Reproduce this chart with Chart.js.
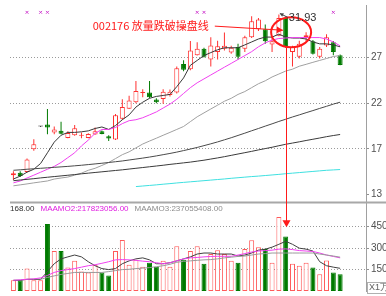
<!DOCTYPE html>
<html><head><meta charset="utf-8">
<script src="https://cdn.jsdelivr.net/npm/chart.js@4.4.0/dist/chart.umd.min.js"></script>
<style>html,body{margin:0;padding:0;background:#fff;}canvas{display:block;}</style>
</head><body>
<canvas id="c" width="386" height="296"></canvas>
<script>
// ---- data ----
const opens  = [15.05,15.29,15.39,17.78,20.15,20.36,19.54,19.70,18.96,19.24,19.19,18.96,19.31,19.65,19.14,18.80,20.97,22.03,22.71,23.68,23.73,22.99,23.05,23.46,23.73,26.72,26.18,27.64,28.33,27.20,27.99,28.33,27.92,28.50,28.33,29.52,30.37,30.37,28.76,29.68,31.56,27.99,27.48,29.55,29.11,27.48,28.66,29.01,27.64];
const highs  = [15.46,15.46,16.79,18.83,20.18,22.00,20.16,20.67,19.65,20.33,19.54,19.44,20.06,19.75,19.24,21.48,23.02,23.39,24.93,24.07,24.93,23.12,24.07,24.04,26.46,27.13,29.14,29.01,28.43,29.52,29.17,30.03,28.63,28.84,29.68,31.73,31.56,30.88,29.52,31.93,31.69,28.63,29.17,30.06,29.24,28.50,29.86,29.14,27.71];
const lows   = [14.54,14.85,15.36,17.60,20.12,19.34,19.34,19.34,18.93,19.19,18.93,18.93,19.29,19.34,18.63,18.73,20.87,22.00,22.61,23.22,23.12,22.61,22.54,23.32,23.63,25.95,26.08,27.61,27.41,26.46,27.20,28.15,27.81,27.20,27.99,29.45,30.19,28.84,27.99,29.65,28.43,26.46,27.30,29.14,27.71,27.30,28.50,27.64,26.59];
const closes = [15.26,14.95,16.69,18.29,20.15,20.06,19.85,19.39,19.47,19.98,19.29,19.37,19.65,19.37,18.90,21.35,22.20,22.88,23.90,23.78,23.22,22.71,23.80,23.80,26.28,26.11,28.15,28.33,27.48,28.66,28.58,28.63,28.43,27.48,29.52,31.21,31.39,29.11,29.11,31.56,28.50,28.50,28.84,29.75,27.81,28.33,29.52,27.99,26.62];
const volumes = [75,75,157,75,75,470,280,280,164,211,136,130,184,130,109,280,357,184,218,170,198,170,211,170,314,218,280,314,191,259,286,259,211,198,295,355,307,295,198,518,382,191,177,198,164,118,213,130,118];

const ma5   = [14.64,14.95,15.36,15.67,16.28,17.40,18.52,19.24,19.54,19.54,19.60,19.70,19.95,20.11,19.85,20.26,20.87,21.38,22.20,22.71,23.12,23.32,23.42,23.53,24.34,25.26,26.59,27.10,27.61,27.92,28.22,28.43,28.43,28.43,28.73,29.04,29.35,29.55,29.55,29.86,29.55,29.45,29.45,29.35,29.04,28.84,28.84,28.73,28.53];
const ma10  = [14.24,14.44,14.75,15.05,15.36,15.67,15.97,16.38,16.89,17.40,18.12,18.73,19.44,19.85,19.85,20.06,20.46,20.77,20.87,21.08,21.38,21.69,22.10,22.51,23.02,23.63,24.24,24.75,25.16,25.57,25.98,26.39,26.79,27.20,27.61,28.02,28.53,28.94,29.24,29.40,29.45,29.50,29.50,29.50,29.50,29.50,29.35,29.04,28.63];
const ma20  = [13.93,14.03,14.13,14.24,14.34,14.44,14.64,14.75,14.85,15.05,15.26,15.56,15.77,16.07,16.38,16.79,17.20,17.50,17.91,18.32,18.63,18.93,19.24,19.54,19.85,20.16,20.67,21.18,21.59,22.00,22.40,22.81,23.12,23.53,23.83,24.24,24.65,24.96,25.36,25.67,25.98,26.18,26.49,26.69,26.90,27.10,27.30,27.51,27.61];
const ma60  = [15.56,15.61,15.67,15.72,15.77,15.82,15.87,15.92,15.97,16.03,16.09,16.16,16.23,16.30,16.38,16.46,16.54,16.64,16.74,16.84,16.95,17.07,17.20,17.33,17.47,17.63,17.79,17.96,18.15,18.34,18.54,18.76,18.98,19.22,19.46,19.71,19.95,20.20,20.44,20.69,20.92,21.16,21.38,21.61,21.83,22.06,22.28,22.51,22.71];
const ma120 = [14.47,14.54,14.61,14.68,14.76,14.83,14.90,14.97,15.04,15.11,15.19,15.26,15.33,15.40,15.47,15.54,15.61,15.69,15.77,15.85,15.93,16.01,16.09,16.18,16.26,16.34,16.42,16.52,16.62,16.74,16.86,16.99,17.13,17.27,17.41,17.55,17.70,17.84,17.98,18.14,18.29,18.42,18.55,18.69,18.82,18.95,19.09,19.21,19.32];
const ma250 = [null,null,null,null,null,null,null,null,null,null,null,null,null,null,null,null,null,null,13.85,13.91,13.97,14.03,14.10,14.16,14.23,14.29,14.35,14.41,14.47,14.53,14.59,14.65,14.72,14.78,14.84,14.90,14.95,15.01,15.07,15.13,15.20,15.26,15.32,15.38,15.44,15.50,15.56,15.60,15.64];

const vma5  = [75,75,82,82,82,136,191,225,239,252,239,205,177,157,150,157,191,211,225,232,218,191,191,198,211,225,239,259,266,266,259,259,259,245,252,266,286,293,307,327,348,327,300,293,280,205,177,167,159];
const vma10 = [75,78,82,85,92,109,130,143,150,157,167,177,184,194,205,218,220,218,215,209,205,198,191,198,211,225,232,235,239,242,243,243,243,252,262,273,280,283,286,293,295,290,283,280,277,266,252,242,232];
const vma20 = [null,null,null,null,82,95,106,116,123,130,130,130,130,130,136,143,150,152,157,160,164,170,177,187,201,208,211,215,218,220,225,232,237,242,245,252,259,262,266,266,266,266,266,266,266,259,252,245,237];

const PRICE_TICKS = [13.0, 17.8, 22.6, 27.4];
const PRICE_TICK_LABELS = ['13', '17', '22', '27'];
const VOL_TICKS = [150, 300, 450];
const VOL_TICK_LABELS = ['150', '300', '450'];

const markerIdx = [2, 4, 5, 27, 28, 47];
const MARK_LEVEL = 32.15;

const TITLE = '002176 放量跌破操盘线';
const TITLE_AT = [11.65, 30.70];
const ARROW_TO = [39.6, 30.27];
const ELLIPSE_AT = [40.8, 30.06];
const BREAK_IDX = 40;
const ARROW_TIP_VOL = 447;
const MAX_LABEL = '31.93';
const VOL_LEGEND = [['168.00', '#303030'], ['MAAMO2:217823056.00', '#e020e0'], ['MAAMO3:237055408.00', '#8c8c8c']];
const UNIT_LABEL = 'X1万';

// ---- styling ----
const RED = '#ff3030', VRED = '#ff5a5a', GREEN = '#007a00', FLAT = '#303030';
const idx = opens.map((_, i) => i);
const dir = idx.map(i => closes[i] > opens[i] ? 1 : (closes[i] < opens[i] ? -1 : 0));
const lineCol = idx.map(i => dir[i] > 0 ? RED : (dir[i] < 0 ? GREEN : FLAT));
const fillCol = idx.map(i => dir[i] > 0 ? '#ffffff' : lineCol[i]);

function lineDs(arr, color, axis, width) {
  return { type: 'line', data: idx.map(i => ({ x: i, y: arr[i] })), yAxisID: axis, borderColor: color,
    borderWidth: width || 1, pointRadius: 0, tension: 0, order: 1, spanGaps: false };
}

function arrowHead(ctx, x1, y1, x2, y2, size) {
  const a = Math.atan2(y2 - y1, x2 - x1);
  ctx.beginPath();
  ctx.moveTo(x2, y2);
  ctx.lineTo(x2 - size * Math.cos(a - 0.5), y2 - size * Math.sin(a - 0.5));
  ctx.lineTo(x2 - size * Math.cos(a + 0.5), y2 - size * Math.sin(a + 0.5));
  ctx.closePath();
  ctx.fill();
}

const annotations = {
  id: 'annotations',
  afterDraw(chart) {
    const { ctx } = chart;
    const xs = chart.scales.x, yp = chart.scales.y, yv = chart.scales.yv;
    const area = chart.chartArea;
    ctx.save();
    // pane separator
    ctx.strokeStyle = '#a8a8a8'; ctx.lineWidth = 2;
    ctx.beginPath(); ctx.moveTo(area.left, yv.top); ctx.lineTo(chart.width, yv.top); ctx.stroke();
    // volume legend
    ctx.font = '8px "Liberation Sans"'; ctx.textBaseline = 'middle'; ctx.textAlign = 'left';
    let tx = area.left;
    VOL_LEGEND.forEach(([t, c]) => { ctx.fillStyle = c; ctx.fillText(t, tx, yv.top + 6.5); tx += ctx.measureText(t).width + 6; });
    // unit box
    ctx.font = '9px "Liberation Sans"';
    const ux = yv.left + 1, uy = yv.bottom - 9;
    ctx.strokeStyle = '#b0b0b0'; ctx.lineWidth = 1;
    ctx.strokeRect(ux + 0.5, uy + 0.5, 22, 11);
    ctx.fillStyle = '#606060'; ctx.fillText(UNIT_LABEL, ux + 2, uy + 6);
    // title
    const tX = xs.getPixelForValue(TITLE_AT[0]), tY = yp.getPixelForValue(TITLE_AT[1]);
    ctx.font = '11px "Noto Sans CJK SC"'; ctx.fillStyle = '#ff1a1a';
    ctx.fillText(TITLE, tX, tY);
    const tW = ctx.measureText(TITLE).width;
    const aX = xs.getPixelForValue(ARROW_TO[0]), aY = yp.getPixelForValue(ARROW_TO[1]);
    ctx.strokeStyle = '#ff1a1a'; ctx.lineWidth = 1;
    ctx.beginPath(); ctx.moveTo(tX + tW + 6, tY); ctx.lineTo(aX, aY); ctx.stroke();
    arrowHead(ctx, tX + tW + 6, tY, aX, aY, 7);
    // ellipse around the breakdown
    ctx.lineWidth = 2;
    ctx.beginPath();
    ctx.ellipse(xs.getPixelForValue(ELLIPSE_AT[0]), yp.getPixelForValue(ELLIPSE_AT[1]), 20, 15, 0, 0, Math.PI * 2);
    ctx.stroke();
    // vertical marker line down to the volume pane
    const bx = Math.round(xs.getPixelForValue(BREAK_IDX)) + 0.5;
    const tipY = yv.getPixelForValue(ARROW_TIP_VOL);
    ctx.lineWidth = 1;
    ctx.beginPath(); ctx.moveTo(bx, yp.getPixelForValue(lows[BREAK_IDX])); ctx.lineTo(bx, tipY - 6); ctx.stroke();
    ctx.beginPath(); ctx.moveTo(bx - 4, tipY - 7); ctx.lineTo(bx + 4, tipY - 7); ctx.lineTo(bx, tipY); ctx.closePath(); ctx.fill();
    // max price label
    let mi = 0; highs.forEach((h, i) => { if (h > highs[mi]) mi = i; });
    const hx = xs.getPixelForValue(mi), hy = yp.getPixelForValue(highs[mi]);
    ctx.strokeStyle = '#404040'; ctx.fillStyle = '#404040'; ctx.lineWidth = 1;
    ctx.beginPath(); ctx.moveTo(hx + 9, hy + 3); ctx.lineTo(hx + 1, hy - 1); ctx.stroke();
    arrowHead(ctx, hx + 9, hy + 3, hx + 1, hy - 1, 4);
    ctx.font = '11px "Liberation Sans"'; ctx.fillStyle = '#303030';
    ctx.fillText(MAX_LABEL, hx + 10, hy + 4);
    ctx.restore();
  }
};

const tickFont = { family: 'Liberation Sans', size: 10 };
const fixFit = s => { s.width = 20; s.paddingTop = 0; s.paddingBottom = 0; };

new Chart(document.getElementById('c'), {
  type: 'bar',
  data: {
    datasets: [
      { type: 'bar', data: idx.map(i => ({ x: i, y: [lows[i], highs[i]] })), yAxisID: 'y', grouped: false,
        maxBarThickness: 1, barPercentage: 1, categoryPercentage: 1, backgroundColor: lineCol,
        borderWidth: 0, inflateAmount: 0, minBarLength: 1, order: 6 },
      { type: 'bar', data: idx.map(i => ({ x: i, y: [opens[i], closes[i]] })), yAxisID: 'y', grouped: false,
        maxBarThickness: 5, barPercentage: 1, categoryPercentage: 1, backgroundColor: fillCol,
        borderColor: lineCol, borderWidth: 1, borderSkipped: false, inflateAmount: 0, minBarLength: 1, order: 5 },
      lineDs(ma250, '#3ee0e0', 'y'),
      lineDs(ma120, '#3a3a3a', 'y'),
      lineDs(ma60, '#4a4a4a', 'y'),
      lineDs(ma20, '#a0a0a0', 'y'),
      lineDs(ma10, '#f040f0', 'y'),
      lineDs(ma5, '#383838', 'y'),
      { type: 'line', data: markerIdx.map(i => ({ x: i, y: MARK_LEVEL })), yAxisID: 'y', showLine: false,
        pointStyle: 'crossRot', pointRadius: 2, borderColor: '#d040d0', borderWidth: 1, order: 0 },
      { type: 'bar', data: idx.map(i => ({ x: i, y: volumes[i] })), yAxisID: 'yv', grouped: false,
        maxBarThickness: 5, barPercentage: 1, categoryPercentage: 1,
        backgroundColor: idx.map(i => dir[i] < 0 ? GREEN : '#ffffff'),
        borderColor: idx.map(i => dir[i] < 0 ? GREEN : VRED), borderWidth: 1, borderSkipped: false, inflateAmount: 0, order: 5 },
      lineDs(vma20, '#9a9a9a', 'yv'),
      lineDs(vma10, '#f040f0', 'yv'),
      lineDs(vma5, '#404040', 'yv')
    ]
  },
  options: {
    responsive: false, animation: false, events: [],
    layout: { padding: { left: 10, right: 0, top: 0, bottom: 2 } },
    plugins: { legend: { display: false }, tooltip: { enabled: false } },
    scales: {
      x: { type: 'linear', display: false, min: -0.5, max: 51.8, offset: false },
      y: {
        type: 'linear', position: 'right', stack: 'panes', stackWeight: 203, min: 12.18, max: 32.92,
        afterBuildTicks: s => { s.ticks = PRICE_TICKS.map(v => ({ value: v })); },
        afterFit: fixFit,
        ticks: { callback: (v, i) => PRICE_TICK_LABELS[i], color: '#505050', font: tickFont, padding: 2, autoSkip: false, maxRotation: 0 },
        grid: { color: c => (c.tick && c.tick.value === PRICE_TICKS[0]) ? 'rgba(0,0,0,0)' : '#9a9a9a', tickColor: '#909090', tickLength: 3, lineWidth: 1 },
        border: { display: true, color: '#a0a0a0', width: 1, dash: [1, 2] }
      },
      yv: {
        type: 'linear', position: 'right', stack: 'panes', stackWeight: 91, min: 0, max: 620,
        afterBuildTicks: s => { s.ticks = VOL_TICKS.map(v => ({ value: v })); },
        afterFit: fixFit,
        ticks: { callback: (v, i) => VOL_TICK_LABELS[i], color: '#505050', font: tickFont, padding: 2, autoSkip: false, maxRotation: 0 },
        grid: { color: '#9a9a9a', tickColor: '#909090', tickLength: 3, lineWidth: 1 },
        border: { display: true, color: '#a0a0a0', width: 1, dash: [1, 2] }
      }
    }
  },
  plugins: [annotations]
});
</script>
</body></html>
